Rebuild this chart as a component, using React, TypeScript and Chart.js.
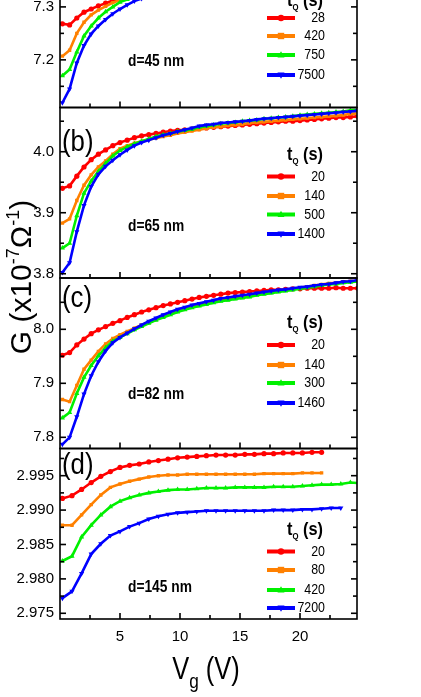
import React, { useEffect, useRef } from "react";
import { Chart, registerables } from "chart.js";

Chart.register(...registerables);

// ---------------- data ----------------
const X_ABC = [0.2, 0.8, 1.4, 2.0, 2.6, 3.2, 3.8, 4.4, 5.0, 5.6, 6.2, 6.8, 7.4, 8.0, 8.6, 9.2, 9.8, 10.4, 11.0, 11.6, 12.2, 12.8, 13.4, 14.0, 14.6, 15.2, 15.8, 16.4, 17.0, 17.6, 18.2, 18.8, 19.4, 20.0, 20.6, 21.2, 21.8, 22.4, 23.0, 23.6, 24.2, 24.8];
const X_D = [0.2, 1.0, 1.8, 2.6, 3.4, 4.2, 5.0, 5.8, 6.6, 7.4, 8.2, 9.0, 9.8, 10.6, 11.4, 12.2, 13.0, 13.8, 14.6, 15.4, 16.2, 17.0, 17.8, 18.6, 19.4, 20.2, 21.0, 21.8, 22.6, 23.4, 24.2, 25.0];

// panel (a) d=45 nm
const A_28 = [7.268, 7.266, 7.279, 7.290, 7.296, 7.302, 7.307, 7.312, 7.316, 7.320, 7.323, 7.326, 7.329, 7.331, 7.333, 7.335, 7.337, 7.339, 7.341, 7.342, 7.344, 7.345, 7.347, 7.348, 7.349, 7.351, 7.352, 7.353, 7.354, 7.355, 7.356, 7.357, 7.358, 7.359, 7.360, 7.361, 7.362, 7.363, 7.364, 7.365, 7.366, 7.367];
const A_420 = [7.207, 7.218, 7.250, 7.271, 7.285, 7.294, 7.301, 7.308, 7.313, 7.317, 7.321, 7.324, 7.327, 7.330, 7.332, 7.334, 7.336, 7.338, 7.340, 7.341, 7.343, 7.344, 7.346, 7.347, 7.349, 7.350, 7.351, 7.352, 7.353, 7.355, 7.356, 7.357, 7.358, 7.359, 7.360, 7.361, 7.362, 7.363, 7.364, 7.365, 7.366, 7.367];
const A_750 = [7.170, 7.182, 7.215, 7.245, 7.264, 7.279, 7.291, 7.300, 7.309, 7.314, 7.318, 7.322, 7.325, 7.328, 7.331, 7.333, 7.335, 7.337, 7.339, 7.340, 7.342, 7.344, 7.345, 7.347, 7.348, 7.349, 7.351, 7.352, 7.353, 7.354, 7.355, 7.356, 7.357, 7.358, 7.359, 7.360, 7.361, 7.362, 7.363, 7.364, 7.365, 7.366];
const A_7500 = [7.119, 7.145, 7.194, 7.227, 7.249, 7.264, 7.276, 7.287, 7.296, 7.304, 7.311, 7.316, 7.320, 7.324, 7.327, 7.330, 7.333, 7.336, 7.338, 7.340, 7.342, 7.343, 7.345, 7.346, 7.348, 7.349, 7.350, 7.352, 7.353, 7.354, 7.355, 7.356, 7.357, 7.358, 7.359, 7.360, 7.361, 7.362, 7.363, 7.364, 7.365, 7.366];

// panel (b) d=65 nm
const B_20 = [3.940, 3.944, 3.960, 3.975, 3.987, 3.996, 4.003, 4.010, 4.015, 4.019, 4.023, 4.026, 4.028, 4.030, 4.032, 4.034, 4.035, 4.036, 4.037, 4.038, 4.039, 4.040, 4.041, 4.042, 4.043, 4.044, 4.045, 4.046, 4.047, 4.048, 4.049, 4.050, 4.050, 4.051, 4.052, 4.053, 4.054, 4.055, 4.056, 4.056, 4.057, 4.058];
const B_140 = [3.883, 3.890, 3.920, 3.945, 3.962, 3.975, 3.985, 3.996, 4.005, 4.010, 4.014, 4.017, 4.020, 4.022, 4.025, 4.027, 4.030, 4.032, 4.034, 4.036, 4.038, 4.040, 4.041, 4.043, 4.044, 4.045, 4.047, 4.048, 4.049, 4.050, 4.051, 4.052, 4.053, 4.054, 4.055, 4.056, 4.057, 4.058, 4.059, 4.060, 4.062, 4.063];
const B_500 = [3.842, 3.850, 3.895, 3.932, 3.952, 3.968, 3.981, 3.993, 4.002, 4.008, 4.013, 4.017, 4.021, 4.025, 4.028, 4.030, 4.033, 4.035, 4.037, 4.040, 4.042, 4.044, 4.046, 4.047, 4.048, 4.050, 4.051, 4.052, 4.054, 4.055, 4.056, 4.057, 4.058, 4.060, 4.061, 4.062, 4.063, 4.064, 4.065, 4.066, 4.068, 4.069];
const B_1400 = [3.802, 3.818, 3.869, 3.912, 3.943, 3.963, 3.976, 3.986, 3.995, 4.003, 4.010, 4.015, 4.019, 4.023, 4.027, 4.030, 4.033, 4.036, 4.039, 4.042, 4.044, 4.045, 4.047, 4.048, 4.049, 4.050, 4.051, 4.053, 4.054, 4.055, 4.056, 4.057, 4.058, 4.059, 4.060, 4.061, 4.062, 4.063, 4.064, 4.065, 4.066, 4.067];

// panel (c) d=82 nm
const C_20 = [7.952, 7.957, 7.971, 7.982, 7.992, 7.999, 8.005, 8.011, 8.016, 8.022, 8.027, 8.032, 8.036, 8.040, 8.044, 8.047, 8.050, 8.053, 8.056, 8.059, 8.061, 8.063, 8.065, 8.067, 8.068, 8.069, 8.070, 8.071, 8.072, 8.073, 8.073, 8.074, 8.075, 8.075, 8.076, 8.076, 8.076, 8.076, 8.077, 8.076, 8.076, 8.076];
const C_140 = [7.870, 7.866, 7.896, 7.926, 7.943, 7.959, 7.973, 7.983, 7.990, 7.996, 8.002, 8.008, 8.013, 8.019, 8.024, 8.029, 8.034, 8.038, 8.042, 8.045, 8.048, 8.051, 8.054, 8.056, 8.058, 8.060, 8.062, 8.065, 8.067, 8.069, 8.071, 8.073, 8.075, 8.077, 8.079, 8.081, 8.083, 8.085, 8.086, 8.088, 8.089, 8.090];
const C_300 = [7.836, 7.846, 7.881, 7.911, 7.933, 7.951, 7.966, 7.978, 7.985, 7.992, 7.999, 8.005, 8.011, 8.017, 8.022, 8.027, 8.032, 8.036, 8.040, 8.043, 8.046, 8.049, 8.052, 8.054, 8.056, 8.058, 8.060, 8.063, 8.065, 8.067, 8.069, 8.071, 8.073, 8.075, 8.077, 8.079, 8.081, 8.083, 8.084, 8.086, 8.087, 8.089];
const C_1460 = [7.787, 7.800, 7.838, 7.880, 7.914, 7.940, 7.960, 7.975, 7.985, 7.993, 8.001, 8.008, 8.015, 8.021, 8.027, 8.032, 8.037, 8.041, 8.045, 8.048, 8.051, 8.054, 8.057, 8.059, 8.061, 8.063, 8.065, 8.067, 8.069, 8.071, 8.073, 8.074, 8.076, 8.078, 8.079, 8.081, 8.083, 8.084, 8.086, 8.088, 8.089, 8.091];

// panel (d) d=145 nm
const D_20 = [2.9917, 2.9921, 2.9930, 2.9940, 2.9949, 2.9956, 2.9962, 2.9965, 2.9967, 2.9970, 2.9972, 2.9974, 2.9976, 2.9977, 2.9978, 2.9979, 2.9980, 2.9980, 2.9980, 2.9981, 2.9981, 2.9982, 2.9982, 2.9983, 2.9983, 2.9983, 2.9984, 2.9984];
const D_80 = [2.9878, 2.9878, 2.9893, 2.9908, 2.9922, 2.9933, 2.9938, 2.9942, 2.9945, 2.9948, 2.9950, 2.9951, 2.9951, 2.9952, 2.9952, 2.9952, 2.9952, 2.9952, 2.9952, 2.9952, 2.9952, 2.9953, 2.9953, 2.9953, 2.9953, 2.9954, 2.9954, 2.9954];
const D_420 = [2.9826, 2.9833, 2.9861, 2.9878, 2.9893, 2.9905, 2.9913, 2.9918, 2.9922, 2.9925, 2.9927, 2.9929, 2.9930, 2.9930, 2.9931, 2.9932, 2.9932, 2.9932, 2.9933, 2.9933, 2.9933, 2.9933, 2.9934, 2.9934, 2.9934, 2.9935, 2.9936, 2.9937, 2.9937, 2.9938, 2.9940, 2.9939];
const D_7200 = [2.9772, 2.9782, 2.9808, 2.9836, 2.9851, 2.9863, 2.9869, 2.9876, 2.9881, 2.9887, 2.9891, 2.9894, 2.9896, 2.9897, 2.9898, 2.9899, 2.9899, 2.9899, 2.9899, 2.9899, 2.9899, 2.9899, 2.9900, 2.9900, 2.9900, 2.9901, 2.9901, 2.9902, 2.9903, 2.9903];

// legend labels (t_Q in s) and annotations
const LEG_A = ["28", "420", "750", "7500"];
const LEG_B = ["20", "140", "500", "1400"];
const LEG_C = ["20", "140", "300", "1460"];
const LEG_D = ["20", "80", "420", "7200"];
const PANEL_TAGS = ["(a)", "(b)", "(c)", "(d)"];
const THICKNESS = ["d=45 nm", "d=65 nm", "d=82 nm", "d=145 nm"];

// ticks
const X_MAJOR = [5, 10, 15, 20];
const X_MINOR = [2.5, 7.5, 12.5, 17.5, 22.5];
const YA_MAJOR = [7.2, 7.3, 7.4];
const YA_MINOR = [7.15, 7.25, 7.35];
const YB_MAJOR = [3.8, 3.9, 4.0];
const YB_MINOR = [3.85, 3.95, 4.05];
const YC_MAJOR = [7.8, 7.9, 8.0];
const YC_MINOR = [7.85, 7.95, 8.05];
const YD_MAJOR = [2.975, 2.98, 2.985, 2.99, 2.995];
const YD_MINOR = [2.9775, 2.9825, 2.9875, 2.9925, 2.9975];

// ---------------- styling / layout ----------------
const FONT = "'Liberation Sans', Arial, sans-serif";
const COLORS = ["#ff0000", "#ff8000", "#00f000", "#0000ff"];
const SHAPES = ["circle", "rect", "triangle", "triangle"];
const ROTS = [0, 0, 0, 180];
const RADII = [2.6, 2.4, 3, 3];
const OFFSET = 63; // canvas shifted upward (top of panel a is cut off)
const SX = 0.86; // horizontal squeeze of annotation text

const PANELS = [
  { id: "ya", xs: X_ABC, series: [A_28, A_420, A_750, A_7500], leg: LEG_A, tag: PANEL_TAGS[0], note: THICKNESS[0], major: YA_MAJOR, minor: YA_MINOR, dec: 1, min: 7.110, max: 7.432, w: 4,
    deco: { tag: 28, title: 69, rows: [81, 99, 118, 138], note: 125 } },
  { id: "yb", xs: X_ABC, series: [B_20, B_140, B_500, B_1400], leg: LEG_B, tag: PANEL_TAGS[1], note: THICKNESS[1], major: YB_MAJOR, minor: YB_MINOR, dec: 1, min: 3.793, max: 4.0725, w: 3,
    deco: { tag: 35, title: 52, rows: [69, 88.5, 107, 126.5], note: 119 } },
  { id: "yc", xs: X_ABC, series: [C_20, C_140, C_300, C_1460], leg: LEG_C, tag: PANEL_TAGS[2], note: THICKNESS[2], major: YC_MAJOR, minor: YC_MINOR, dec: 1, min: 7.7793, max: 8.095, w: 2,
    deco: { tag: 20.5, title: 50, rows: [67, 87, 105, 125], note: 117 } },
  { id: "yd", xs: X_D, series: [D_20, D_80, D_420, D_7200], leg: LEG_D, tag: PANEL_TAGS[3], note: THICKNESS[3], major: YD_MAJOR, minor: YD_MINOR, dec: 3, min: 2.97417, max: 2.99895, w: 1,
    deco: { tag: 17, title: 86.5, rows: [103, 121.5, 141.5, 159.5], note: 139.5 } },
];

type Seg = { t: string; size: number; bold?: boolean; dy?: number };
const fontOf = (s: Seg) => `${s.bold ? "bold " : ""}${s.size}px ${FONT}`;
function drawRich(ctx: CanvasRenderingContext2D, segs: Seg[], x: number, y: number, align: "left" | "center" | "right", sx = SX) {
  let total = 0;
  const widths = segs.map((s) => {
    ctx.font = fontOf(s);
    const w = ctx.measureText(s.t).width * sx;
    total += w;
    return w;
  });
  let cx = align === "center" ? x - total / 2 : align === "right" ? x - total : x;
  ctx.textAlign = "left";
  segs.forEach((s, i) => {
    ctx.save();
    ctx.font = fontOf(s);
    ctx.translate(cx, y + (s.dy || 0));
    ctx.scale(sx, 1);
    ctx.fillText(s.t, 0, 0);
    ctx.restore();
    cx += widths[i];
  });
}

function drawMarker(ctx: CanvasRenderingContext2D, k: number, x: number, y: number, r: number) {
  ctx.fillStyle = COLORS[k];
  ctx.beginPath();
  if (k === 0) {
    ctx.arc(x, y, r, 0, Math.PI * 2);
  } else if (k === 1) {
    ctx.rect(x - r, y - r, 2 * r, 2 * r);
  } else if (k === 2) {
    ctx.moveTo(x, y - r * 1.2);
    ctx.lineTo(x + r * 1.1, y + r * 0.8);
    ctx.lineTo(x - r * 1.1, y + r * 0.8);
  } else {
    ctx.moveTo(x, y + r * 1.2);
    ctx.lineTo(x + r * 1.1, y - r * 0.8);
    ctx.lineTo(x - r * 1.1, y - r * 0.8);
  }
  ctx.closePath();
  ctx.fill();
}

const decoPlugin = {
  id: "panelDeco",
  afterDatasetsDraw(chart: any) {
    const ctx: CanvasRenderingContext2D = chart.ctx;
    const { left, right } = chart.chartArea;
    const xs = chart.scales.x;
    ctx.save();
    ctx.strokeStyle = "#000";
    ctx.lineWidth = 1.6;
    const seg = (x1: number, y1: number, x2: number, y2: number) => {
      ctx.beginPath();
      ctx.moveTo(x1, y1);
      ctx.lineTo(x2, y2);
      ctx.stroke();
    };
    PANELS.forEach((p) => {
      const ys = chart.scales[p.id];
      const top = ys.top;
      const bottom = ys.bottom;
      ctx.strokeRect(left, top, right - left, bottom - top);
      X_MAJOR.forEach((v) => { const px = xs.getPixelForValue(v); seg(px, bottom, px, bottom - 6); });
      X_MINOR.forEach((v) => { const px = xs.getPixelForValue(v); seg(px, bottom, px, bottom - 4); });
      const yt = (vals: number[], len: number) => vals.forEach((v) => {
        const py = ys.getPixelForValue(v);
        if (py < top + 1 || py > bottom - 1) return;
        seg(left, py, left + len, py);
        seg(right, py, right - len, py);
      });
      yt(p.major, 6);
      yt(p.minor, 4);
    });
    ctx.restore();
  },
  afterDraw(chart: any) {
    const ctx: CanvasRenderingContext2D = chart.ctx;
    const { left } = chart.chartArea;
    ctx.save();
    ctx.fillStyle = "#000";
    ctx.textBaseline = "middle";
    PANELS.forEach((p) => {
      const top = chart.scales[p.id].top;
      const d = p.deco;
      ctx.fillStyle = "#000";
      drawRich(ctx, [{ t: p.tag, size: 30 }], left + 2, top + d.tag, "left");
      drawRich(ctx, [{ t: p.note, size: 16, bold: true }], left + 68, top + d.note, "left");
      ctx.textBaseline = "alphabetic";
      drawRich(ctx, [{ t: "t", size: 19, bold: true }, { t: "Q", size: 9, bold: true, dy: 4 }, { t: " (s)", size: 19, bold: true }], left + 227, top + d.title, "left");
      ctx.textBaseline = "middle";
      p.leg.forEach((lab, k) => {
        const y = top + d.rows[k];
        ctx.strokeStyle = COLORS[k];
        ctx.lineWidth = 4;
        ctx.beginPath();
        ctx.moveTo(left + 207, y);
        ctx.lineTo(left + 235, y);
        ctx.stroke();
        drawMarker(ctx, k, left + 221, y, 3.2);
        ctx.fillStyle = "#000";
        drawRich(ctx, [{ t: lab, size: 15.5 }], left + 265, y, "right", 0.8);
      });
    });
    // axis titles
    ctx.fillStyle = "#000";
    ctx.textBaseline = "alphabetic";
    drawRich(ctx, [{ t: "V", size: 31 }, { t: "g", size: 21, dy: 9 }, { t: " (V)", size: 31 }], 206, 679 + OFFSET, "center", 0.82);
    ctx.translate(31, 277 + OFFSET);
    ctx.rotate(-Math.PI / 2);
    drawRich(ctx, [{ t: "G (x10", size: 30 }, { t: "-7", size: 18, dy: -12 }, { t: "Ω", size: 30 }, { t: "-1", size: 18, dy: -12 }, { t: ")", size: 30 }], 0, 0, "center", 1);
    ctx.restore();
  },
};

export default function App() {
  const ref = useRef<HTMLCanvasElement | null>(null);
  useEffect(() => {
    if (!ref.current) return;
    const datasets: any[] = [];
    PANELS.forEach((p) => {
      p.series.forEach((vals, k) => {
        datasets.push({
          label: `${p.id}-${p.leg[k]}`,
          data: vals.map((y, i) => ({ x: p.xs[i], y })),
          yAxisID: p.id,
          xAxisID: "x",
          borderColor: COLORS[k],
          backgroundColor: COLORS[k],
          borderWidth: 2.6,
          pointRadius: RADII[k],
          pointStyle: SHAPES[k],
          rotation: ROTS[k],
          pointBorderWidth: 0,
          tension: 0,
          order: 3 - k,
        });
      });
    });
    const scales: any = {
      x: {
        type: "linear",
        position: "bottom",
        min: 0,
        max: 24.75,
        grid: { display: false, drawTicks: false },
        border: { display: false },
        afterBuildTicks: (s: any) => { s.ticks = X_MAJOR.map((v) => ({ value: v })); },
        afterFit: (s: any) => { s.height = 78; s.paddingLeft = 0; s.paddingRight = 0; },
        ticks: { autoSkip: false, maxRotation: 0, padding: 9, color: "#000", font: { family: FONT, size: 15 }, callback: (v: any) => String(v) },
      },
    };
    PANELS.forEach((p) => {
      scales[p.id] = {
        type: "linear",
        position: "left",
        stack: "panels",
        stackWeight: 1,
        weight: p.w,
        min: p.min,
        max: p.max,
        grid: { display: false, drawTicks: false },
        border: { display: false },
        afterBuildTicks: (s: any) => { s.ticks = p.major.map((v) => ({ value: v })); },
        afterFit: (s: any) => { s.width = 60; s.paddingTop = 0; s.paddingBottom = 0; },
        ticks: { autoSkip: false, padding: 6, color: "#000", font: { family: FONT, size: 15 }, callback: (v: any) => Number(v).toFixed(p.dec) },
      };
    });
    const chart = new Chart(ref.current, {
      type: "line",
      data: { datasets },
      options: {
        animation: false,
        responsive: false,
        devicePixelRatio: 1,
        layout: { padding: { left: 0, right: 64, top: 0, bottom: 0 }, autoPadding: false } as any,
        plugins: { legend: { display: false }, tooltip: { enabled: false } },
        scales,
      } as any,
      plugins: [decoPlugin as any],
    });
    return () => chart.destroy();
  }, []);
  return (
    <div style={{ position: "fixed", left: 0, top: 0, width: 421, height: 697, overflow: "hidden", background: "#fff" }}>
      <canvas ref={ref} width={421} height={760} style={{ position: "absolute", left: 0, top: -OFFSET, width: 421, height: 760 }} />
    </div>
  );
}
